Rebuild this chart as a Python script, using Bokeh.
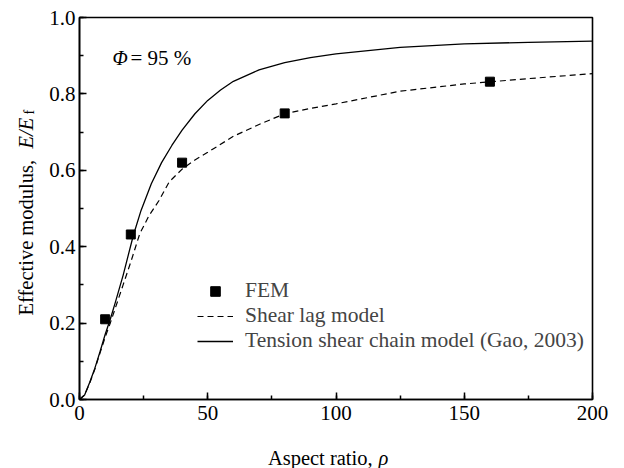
import math
from bokeh.plotting import figure
from bokeh.layouts import row, column
from bokeh.models import (Range1d, SingleIntervalTicker, Label, Legend, LegendItem,
                          NumeralTickFormatter)
from bokeh.embed import file_html
from bokeh.resources import INLINE

# ---- data ----
fem_rho = [10, 20, 40, 80, 160]
fem_e = [0.21, 0.432, 0.62, 0.749, 0.832]

tsc_rho = [0, 2, 4, 6, 8, 10, 12, 14, 17, 21, 24, 28, 32, 36, 40, 45, 50, 55, 60,
           70, 80, 90, 100, 125, 150, 175, 200]
tsc_e = [0, 0.012, 0.045, 0.082, 0.125, 0.17, 0.21, 0.255, 0.325, 0.43, 0.495, 0.565,
         0.62, 0.665, 0.705, 0.748, 0.783, 0.81, 0.833, 0.863, 0.882, 0.895, 0.905,
         0.922, 0.931, 0.935, 0.938]

sl_rho = [0, 2, 4, 6, 8, 10, 12, 14, 17, 20, 23.5, 27, 31, 35, 40, 45, 50, 60, 70,
          80, 90, 100, 125, 150, 175, 200]
sl_e = [0, 0.012, 0.043, 0.08, 0.122, 0.163, 0.2, 0.24, 0.3, 0.36, 0.434, 0.48, 0.521,
        0.57, 0.603, 0.627, 0.647, 0.689, 0.72, 0.748, 0.762, 0.774, 0.807, 0.826,
        0.840, 0.853]

legend_labels = ["FEM", "Shear lag model", "Tension shear chain model (Gao, 2003)"]
x_ticks_interval = 50
y_ticks_interval = 0.2

FONT = "Liberation Serif"

# ---- layout sizes (page pixels) ----
LEFT_W = 44          # strip holding the y-axis title
MAIN_W, MAIN_H = 580, 440
BOT_H = 28           # strip holding the x-axis title
TOTAL_H = MAIN_H + BOT_H

p = figure(width=MAIN_W, height=MAIN_H, x_range=Range1d(0, 200), y_range=Range1d(0, 1.0),
           output_backend="svg", toolbar_location=None, title=None,
           min_border_left=35, min_border_right=32, min_border_top=17, min_border_bottom=41)
p.grid.visible = False
p.background_fill_color = "white"
p.border_fill_color = "white"
p.outline_line_color = "black"
p.outline_line_width = 1.6

for ax in (p.xaxis[0], p.yaxis[0]):
    ax.axis_line_width = 1.6
    ax.axis_line_color = "black"
    ax.major_tick_in = 7
    ax.major_tick_out = 0
    ax.minor_tick_in = 4
    ax.minor_tick_out = 0
    ax.major_tick_line_width = 1.5
    ax.minor_tick_line_width = 1.5
    ax.major_tick_line_color = "black"
    ax.minor_tick_line_color = "black"
    ax.major_label_text_font = FONT
    ax.major_label_text_font_size = "21px"
    ax.major_label_text_color = "black"

p.xaxis.ticker = SingleIntervalTicker(interval=x_ticks_interval, num_minor_ticks=2)
p.yaxis.ticker = SingleIntervalTicker(interval=y_ticks_interval, num_minor_ticks=2)
p.yaxis.formatter = NumeralTickFormatter(format="0.0")
p.xaxis.major_label_standoff = 6
p.yaxis.major_label_standoff = 4

r_sl = p.line(sl_rho, sl_e, line_color="black", line_width=1.2, line_dash="6 4")
r_tsc = p.line(tsc_rho, tsc_e, line_color="black", line_width=1.3)
r_fem = p.scatter(fem_rho, fem_e, marker="square", size=9, fill_color="black",
                  line_color="black")

legend = Legend(items=[LegendItem(label=legend_labels[0], renderers=[r_fem]),
                       LegendItem(label=legend_labels[1], renderers=[r_sl]),
                       LegendItem(label=legend_labels[2], renderers=[r_tsc])],
                location=(118, 46), padding=0, margin=0, spacing=0,
                glyph_width=36, glyph_height=24, label_height=24, label_standoff=12,
                label_text_font=FONT, label_text_font_size="21.5px",
                border_line_alpha=0, background_fill_alpha=0)
p.add_layout(legend, "center")


def dx(px):
    return (px - 79) / 2.565


def dy(py):
    return (399 - py) / 382.0


def add_label(fig, text, x, y, size="20.5px", style="normal", angle=0.0):
    fig.add_layout(Label(x=x, y=y, text=text, text_font=FONT,
                         text_font_size=size, text_font_style=style, angle=angle,
                         text_align="left", text_baseline="alphabetic",
                         text_color="black"))


# annotation inside the frame
add_label(p, "\u03a6", dx(112), dy(57), size="20px", style="italic")
add_label(p, "= 95 %", dx(130), dy(57), size="21px")


def strip(w, h):
    f = figure(width=w, height=h, x_range=Range1d(0, w), y_range=Range1d(0, h),
               output_backend="svg", toolbar_location=None, title=None,
               min_border=0, min_border_left=0, min_border_right=0,
               min_border_top=0, min_border_bottom=0,
               x_axis_location=None, y_axis_location=None)
    f.grid.visible = False
    f.xgrid.visible = False
    f.ygrid.visible = False
    f.outline_line_color = None
    f.background_fill_color = "white"
    f.border_fill_color = "white"
    return f


# y-axis title strip (coordinates: pixels from the strip's bottom-left)
ystrip = strip(LEFT_W, TOTAL_H)
add_label(ystrip, "Effective modulus,", 25, TOTAL_H - 315, angle=math.pi / 2)
add_label(ystrip, "E/E", 25, TOTAL_H - 148, style="italic", angle=math.pi / 2)
add_label(ystrip, "f", 29, TOTAL_H - 114, size="14px", angle=math.pi / 2)

# x-axis title strip
xstrip = strip(MAIN_W, BOT_H)
add_label(xstrip, "Aspect ratio,", 257 - LEFT_W, 11)
add_label(xstrip, "\u03c1", 382 - LEFT_W, 11, style="italic")

layout = row(ystrip, column(p, xstrip, spacing=0), spacing=0)

open("out.html", "w").write(file_html(layout, INLINE))
